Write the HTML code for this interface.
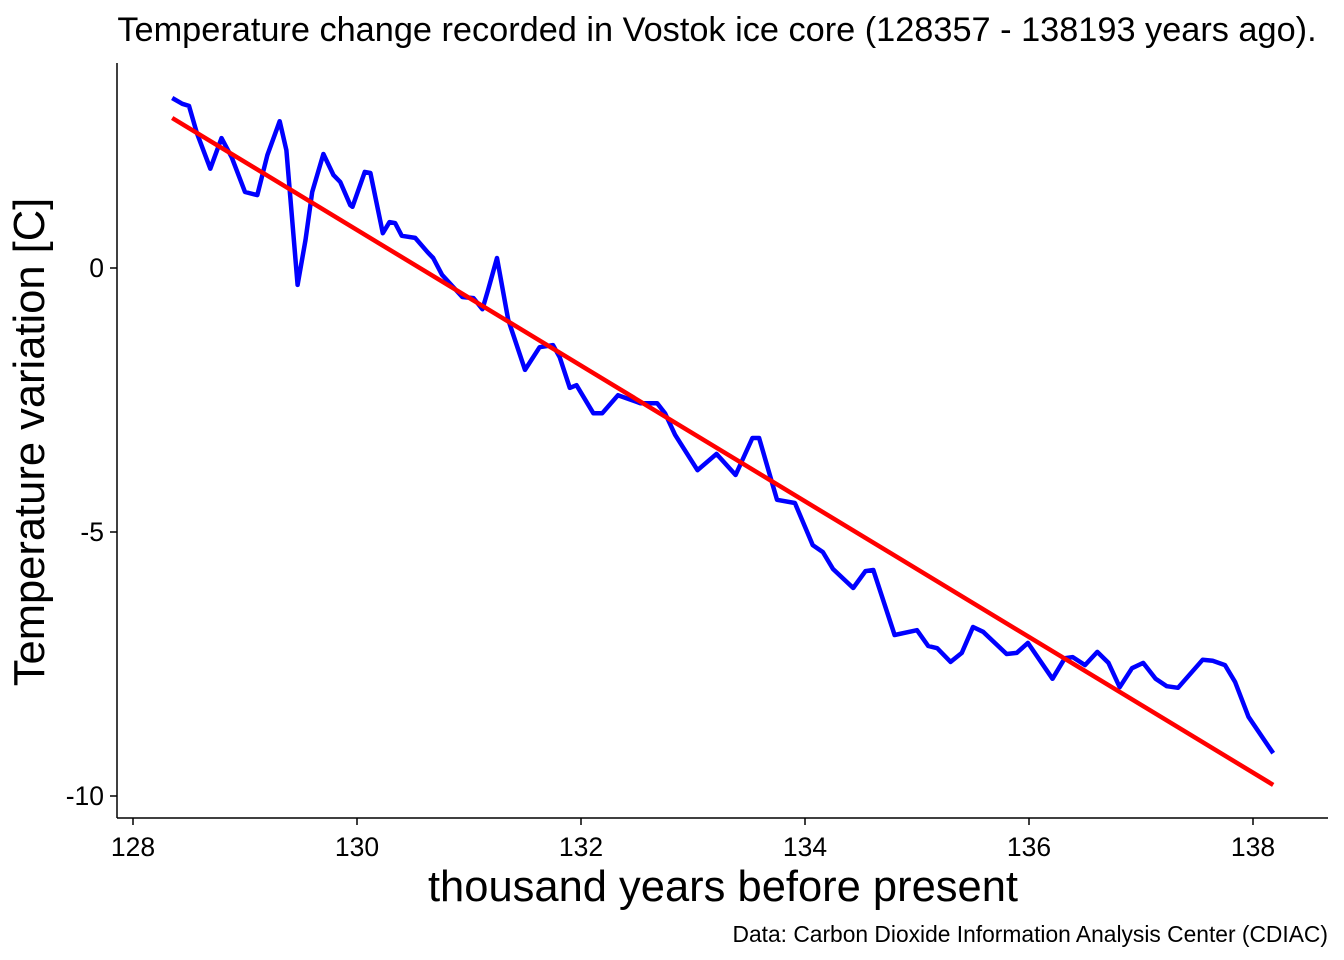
<!DOCTYPE html>
<html><head><meta charset="utf-8"><style>
body{margin:0;background:#fff;}
svg{display:block;font-family:"Liberation Sans",sans-serif;}
</style></head><body>
<svg id="chart" width="1344" height="960" viewBox="0 0 1344 960">
<text x="717" y="41" font-size="34.3" text-anchor="middle" fill="#000">Temperature change recorded in Vostok ice core (128357 - 138193 years ago).</text>
<g id="plot"></g>
<line x1="117" y1="63" x2="117" y2="818" stroke="#000" stroke-width="1.5"/>
<line x1="117" y1="818" x2="1328" y2="818" stroke="#000" stroke-width="1.5"/>
<g id="xticks"></g>
<g id="yticks"></g>
<text x="723" y="901" font-size="43.5" text-anchor="middle">thousand years before present</text>
<text transform="translate(44,442) rotate(-90)" font-size="43.5" text-anchor="middle">Temperature variation [C]</text>
<text x="1328" y="942" font-size="22.8" text-anchor="end">Data: Carbon Dioxide Information Analysis Center (CDIAC)</text>
</svg>
<script>
const years=[128.35,128.44,128.50,128.57,128.69,128.79,128.88,129.00,129.11,129.20,129.31,129.37,129.47,129.54,129.60,129.70,129.79,129.85,129.94,129.96,130.07,130.12,130.23,130.29,130.34,130.40,130.52,130.63,130.68,130.76,130.94,131.04,131.12,131.17,131.25,131.35,131.50,131.63,131.75,131.81,131.90,131.96,132.11,132.19,132.33,132.53,132.68,132.75,132.84,133.04,133.21,133.38,133.53,133.59,133.75,133.91,134.07,134.16,134.25,134.43,134.54,134.61,134.80,135.00,135.10,135.18,135.30,135.40,135.50,135.59,135.80,135.89,135.99,136.21,136.32,136.39,136.50,136.61,136.71,136.81,136.92,137.02,137.13,137.23,137.33,137.55,137.64,137.75,137.84,137.96,138.18];
const temps=[3.22,3.11,3.07,2.56,1.88,2.46,2.10,1.44,1.38,2.14,2.78,2.23,-0.32,0.53,1.44,2.16,1.76,1.63,1.19,1.16,1.82,1.80,0.66,0.87,0.85,0.61,0.57,0.30,0.19,-0.13,-0.55,-0.57,-0.78,-0.42,0.19,-0.98,-1.93,-1.50,-1.46,-1.69,-2.27,-2.22,-2.75,-2.75,-2.41,-2.56,-2.56,-2.75,-3.16,-3.83,-3.52,-3.92,-3.22,-3.22,-4.39,-4.45,-5.25,-5.38,-5.70,-6.06,-5.74,-5.72,-6.95,-6.86,-7.16,-7.20,-7.46,-7.29,-6.80,-6.89,-7.31,-7.29,-7.10,-7.78,-7.39,-7.37,-7.52,-7.27,-7.48,-7.94,-7.58,-7.48,-7.78,-7.92,-7.95,-7.42,-7.44,-7.52,-7.84,-8.50,-9.19];
const trendX=[128.35,138.18];
const trendY=[2.84,-9.79];
const xTicks=[128,130,132,134,136,138];
const yTicks=[0,-5,-10];
const NS="http://www.w3.org/2000/svg";
function sx(v){return 133+(v-128)*112;}
function sy(v){return 268-v*52.8;}
const plot=document.getElementById('plot');
function poly(xs,ys,color,name){
  const p=document.createElementNS(NS,'polyline');
  p.setAttribute('points',xs.map((x,i)=>sx(x).toFixed(1)+','+sy(ys[i]).toFixed(1)).join(' '));
  p.setAttribute('fill','none');p.setAttribute('stroke',color);p.setAttribute('stroke-width','4.5');
  p.setAttribute('stroke-linejoin','round');
  
  
  plot.appendChild(p);
}
poly(years,temps,'#0000ff','temperature-line');
poly(trendX,trendY,'#ff0000','trend-line');
const xg=document.getElementById('xticks');
xTicks.forEach(t=>{
  const l=document.createElementNS(NS,'line');
  l.setAttribute('x1',sx(t));l.setAttribute('x2',sx(t));l.setAttribute('y1',818);l.setAttribute('y2',825);l.setAttribute('stroke','#000');l.setAttribute('stroke-width','1.5');
  
  
  xg.appendChild(l);
  const tx=document.createElementNS(NS,'text');
  tx.setAttribute('x',sx(t));tx.setAttribute('y',856);tx.setAttribute('font-size','26.5');tx.setAttribute('text-anchor','middle');
  tx.textContent=t;
  
  
  xg.appendChild(tx);
});
const yg=document.getElementById('yticks');
yTicks.forEach(t=>{
  const l=document.createElementNS(NS,'line');
  l.setAttribute('x1',110);l.setAttribute('x2',117);l.setAttribute('y1',sy(t));l.setAttribute('y2',sy(t));l.setAttribute('stroke','#000');l.setAttribute('stroke-width','1.5');
  
  
  yg.appendChild(l);
  const tx=document.createElementNS(NS,'text');
  tx.setAttribute('x',104);tx.setAttribute('y',sy(t)+9);tx.setAttribute('font-size','26.5');tx.setAttribute('text-anchor','end');
  tx.textContent=t;
  
  
  yg.appendChild(tx);
});
</script>
</body></html>
